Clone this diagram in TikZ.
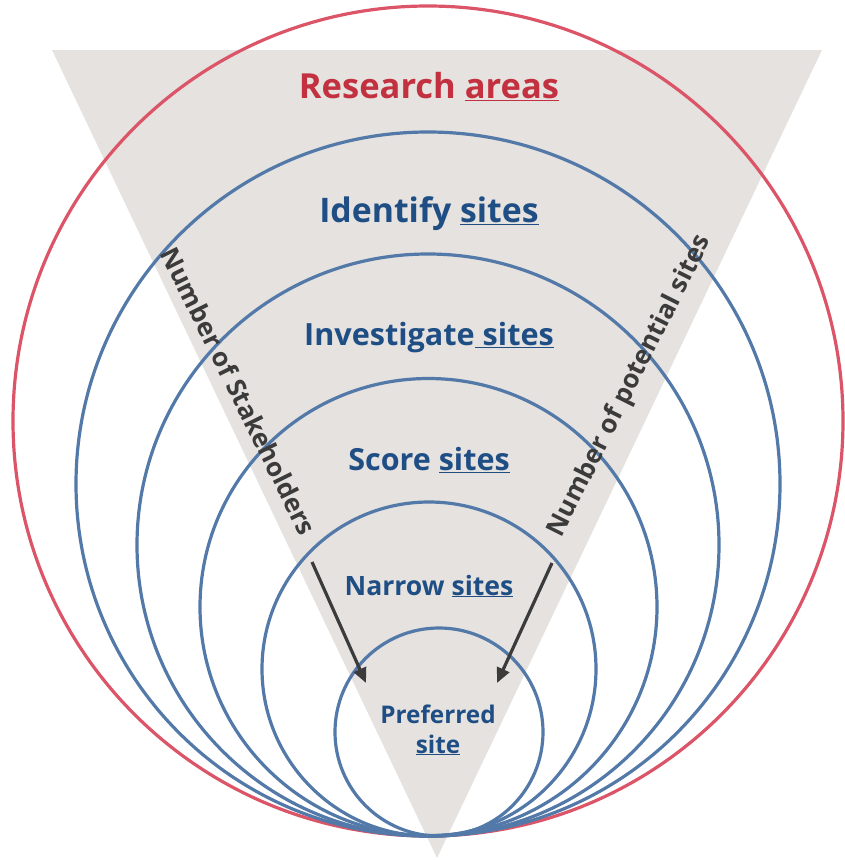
\documentclass[tikz,border=0pt]{standalone}
\usepackage{fontspec}
\setmainfont{Open Sans}
\usetikzlibrary{arrows.meta}

\definecolor{ringblue}{HTML}{5379A9}
\definecolor{ringred}{HTML}{DC5467}
\definecolor{textblue}{HTML}{1F4E85}
\definecolor{textred}{HTML}{C3303F}
\definecolor{funnel}{HTML}{E5E2DF}
\definecolor{darkgray}{HTML}{3B3B3B}

\newcommand{\ul}[1]{\underline{#1}}
\newcommand{\fs}[1]{\bfseries\fontsize{#1}{#1}\selectfont}

\tikzset{
  ring/.style={draw=ringblue, line width=3.2pt},
  stage/.style={text=textblue, inner sep=0pt, anchor=base},
  side/.style={text=darkgray, inner sep=0pt, font=\fs{26}},
  push/.style={draw=darkgray, line width=3.2pt, -{Triangle[length=15pt, width=13pt]}},
}

\begin{document}
\begin{tikzpicture}[x=1pt, y=-1pt]
  \useasboundingbox (0,0) rectangle (844,860);
  % funnel
  \fill [funnel] (52,50) -- (822,50) -- (437,858) -- cycle;
  % nested rings, all touching at the bottom
  \draw [ring, draw=ringred] (428,421) circle (415);
  \draw [ring] (428,484) circle (352);
  \draw [ring] (428,545) circle (291);
  \draw [ring] (428.5,607) circle (228.5);
  \draw [ring] (429,669) circle (167);
  \draw [ring] (439,732) circle (104);

  \node [stage, text=textred, font=\fs{34.5}] (research) at (429,98) {Research \ul{areas}};
  \node [stage, font=\fs{33.8}] (identify) at (429,222) {Identify \ul{sites}};
  \node [stage, font=\fs{30.6}] (investigate) at (429,345) {Investigate\ul{ sites}};
  \node [stage, font=\fs{30.5}] (score) at (429,470) {Score \ul{sites}};
  \node [stage, font=\fs{26.6}] (narrow) at (429,595) {Narrow \ul{sites}};
  \node [stage, font=\fs{24.3}] (preferred) at (438,723) {Preferred};
  \node [stage, font=\fs{24.3}] (site) at (438,753) {\ul{site}};

  \node [side, rotate=-63.6] (stakeholders) at (239,391) {Number of Stakeholders};
  \node [side, rotate=63.4] (potential) at (630,386) {Number of potential sites};

  \coordinate (ls) at (312,562);
  \coordinate (le) at (366,683);
  \coordinate (rs) at (552,563);
  \coordinate (re) at (497,683);
  \draw [push] (ls) -- (le);
  \draw [push] (rs) -- (re);
\end{tikzpicture}
\end{document}
